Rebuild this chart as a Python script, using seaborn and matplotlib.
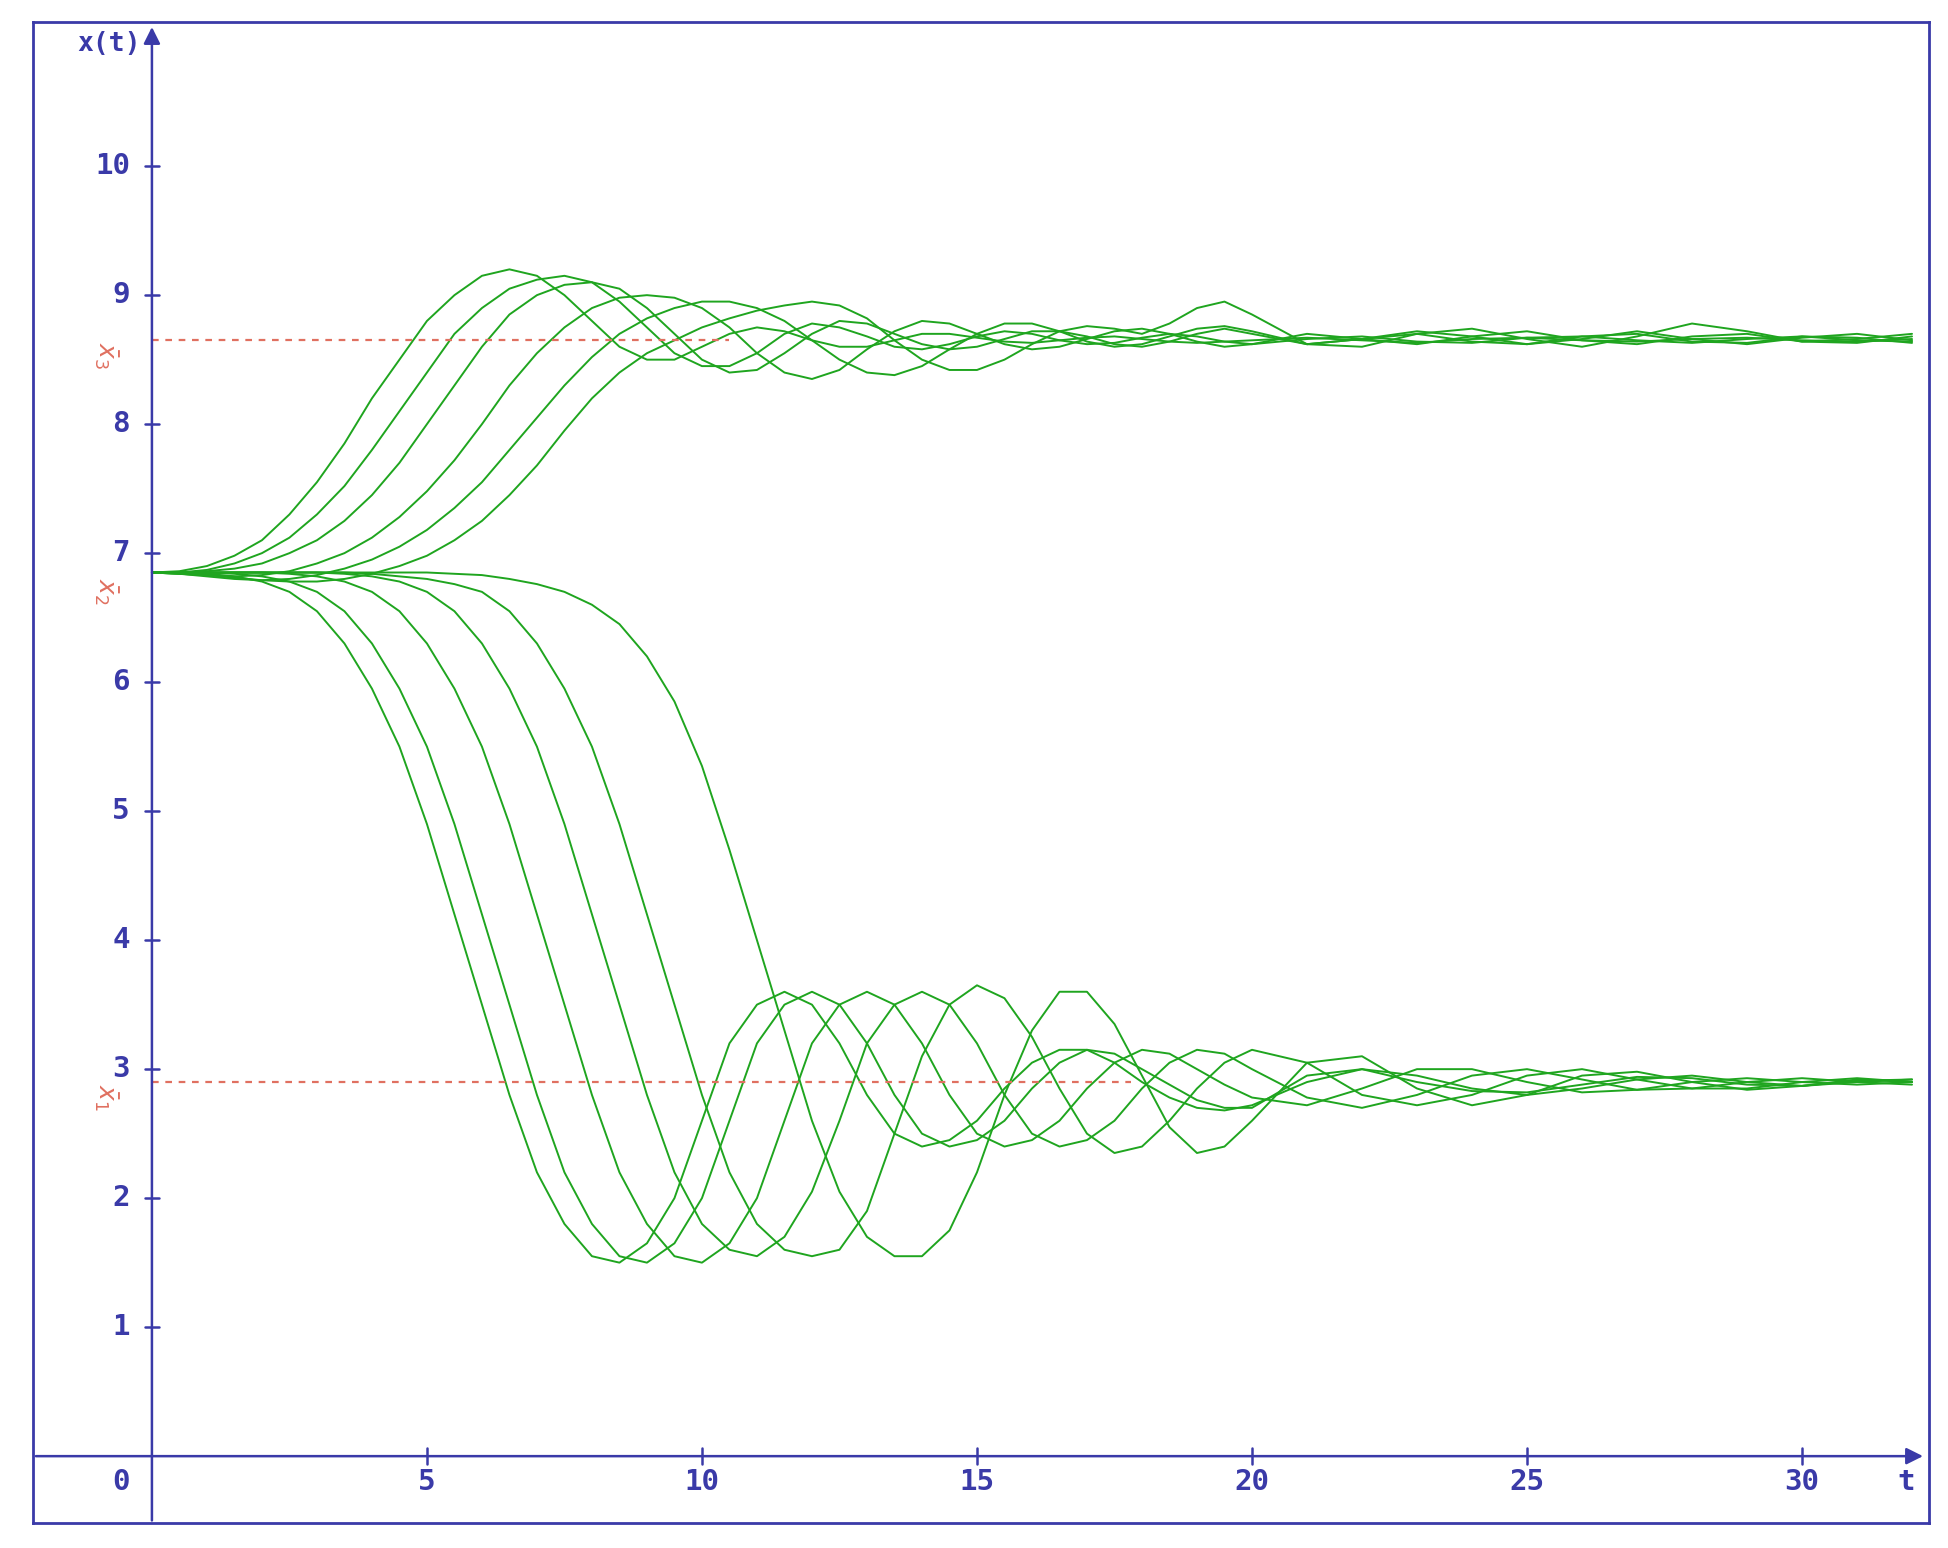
import numpy as np
import matplotlib
matplotlib.use("Agg")
import matplotlib.pyplot as plt
import seaborn as sns

# time grid: 0..20 step 0.5, then 21..32 step 1
t_fine = [i * 0.5 for i in range(41)]
t_coarse = list(range(21, 33))
t_vals = t_fine + t_coarse

# equilibria
x1_bar = 2.9
x2_bar = 6.82
x3_bar = 8.65

upper = {
    "u1": [6.85,6.86,6.9,6.98,7.1,7.3,7.55,7.85,8.2,8.5,8.8,9.0,9.15,9.2,9.15,9.0,8.8,8.6,8.5,8.5,8.6,8.7,8.75,8.72,8.65,8.6,8.6,8.65,8.7,8.7,8.67,8.64,8.63,8.65,8.67,8.68,8.66,8.64,8.63,8.64,8.65,
           8.67,8.65,8.63,8.66,8.67,8.65,8.64,8.66,8.67,8.65,8.64,8.66],
    "u2": [6.85,6.85,6.87,6.92,7.0,7.12,7.3,7.52,7.8,8.1,8.4,8.7,8.9,9.05,9.12,9.15,9.1,8.95,8.75,8.55,8.45,8.45,8.55,8.7,8.78,8.75,8.68,8.6,8.58,8.62,8.68,8.72,8.7,8.65,8.62,8.63,8.67,8.7,8.68,8.64,8.62,
           8.66,8.68,8.64,8.63,8.67,8.68,8.65,8.63,8.66,8.68,8.65,8.64],
    "u3": [6.85,6.85,6.86,6.88,6.92,7.0,7.1,7.25,7.45,7.7,8.0,8.3,8.6,8.85,9.0,9.08,9.1,9.05,8.9,8.7,8.5,8.4,8.42,8.55,8.7,8.8,8.78,8.7,8.62,8.58,8.6,8.66,8.72,8.72,8.68,8.62,8.6,8.64,8.7,8.74,8.7,
           8.62,8.66,8.7,8.64,8.62,8.68,8.7,8.64,8.63,8.68,8.67,8.63],
    "u4": [6.85,6.84,6.83,6.82,6.83,6.86,6.92,7.0,7.12,7.28,7.48,7.72,8.0,8.3,8.55,8.75,8.9,8.98,9.0,8.98,8.9,8.75,8.55,8.4,8.35,8.42,8.58,8.72,8.8,8.78,8.7,8.62,8.58,8.6,8.66,8.72,8.74,8.7,8.64,8.6,8.62,
           8.7,8.66,8.62,8.68,8.72,8.65,8.62,8.68,8.7,8.64,8.63,8.68],
    "u5": [6.85,6.84,6.82,6.8,6.79,6.8,6.83,6.88,6.95,7.05,7.18,7.35,7.55,7.8,8.05,8.3,8.52,8.7,8.82,8.9,8.95,8.95,8.9,8.8,8.65,8.5,8.4,8.38,8.45,8.58,8.7,8.78,8.78,8.72,8.64,8.6,8.62,8.68,8.74,8.76,8.72,
           8.62,8.66,8.72,8.68,8.62,8.66,8.72,8.66,8.62,8.67,8.7,8.65],
    "u6": [6.85,6.84,6.83,6.81,6.79,6.78,6.78,6.8,6.84,6.9,6.98,7.1,7.25,7.45,7.68,7.95,8.2,8.4,8.55,8.65,8.75,8.82,8.88,8.92,8.95,8.92,8.82,8.65,8.5,8.42,8.42,8.5,8.62,8.72,8.76,8.74,8.7,8.78,8.9,8.95,8.85,
           8.62,8.6,8.7,8.74,8.66,8.6,8.68,8.78,8.72,8.64,8.66,8.7],
}

lower = {
    "l1": [6.85,6.85,6.84,6.82,6.78,6.7,6.55,6.3,5.95,5.5,4.9,4.2,3.5,2.8,2.2,1.8,1.55,1.5,1.65,2.0,2.6,3.2,3.5,3.6,3.5,3.2,2.8,2.5,2.4,2.45,2.6,2.85,3.05,3.15,3.15,3.05,2.9,2.78,2.7,2.68,2.72,
           2.9,3.0,2.95,2.85,2.8,2.85,2.92,2.95,2.9,2.87,2.9,2.92],
    "l2": [6.85,6.85,6.85,6.84,6.82,6.78,6.7,6.55,6.3,5.95,5.5,4.9,4.2,3.5,2.8,2.2,1.8,1.55,1.5,1.65,2.0,2.6,3.2,3.5,3.6,3.5,3.2,2.8,2.5,2.4,2.45,2.6,2.85,3.05,3.15,3.12,3.0,2.88,2.76,2.7,2.7,
           2.95,3.0,2.9,2.83,2.82,2.88,2.94,2.93,2.88,2.87,2.91,2.92],
    "l3": [6.85,6.85,6.85,6.85,6.85,6.84,6.82,6.78,6.7,6.55,6.3,5.95,5.5,4.9,4.2,3.5,2.8,2.2,1.8,1.55,1.5,1.65,2.0,2.6,3.2,3.5,3.6,3.5,3.2,2.8,2.5,2.4,2.45,2.6,2.85,3.05,3.15,3.12,3.0,2.88,2.78,
           2.72,2.85,3.0,3.0,2.9,2.82,2.84,2.9,2.93,2.9,2.88,2.9],
    "l4": [6.85,6.85,6.85,6.85,6.85,6.85,6.85,6.84,6.82,6.78,6.7,6.55,6.3,5.95,5.5,4.9,4.2,3.5,2.8,2.2,1.8,1.6,1.55,1.7,2.05,2.6,3.2,3.5,3.6,3.5,3.2,2.8,2.5,2.4,2.45,2.6,2.85,3.05,3.15,3.12,3.0,
           2.78,2.7,2.8,2.95,3.0,2.92,2.84,2.85,2.9,2.93,2.9,2.88],
    "l5": [6.85,6.85,6.85,6.85,6.85,6.85,6.85,6.85,6.84,6.82,6.8,6.76,6.7,6.55,6.3,5.95,5.5,4.9,4.2,3.5,2.8,2.2,1.8,1.6,1.55,1.6,1.9,2.5,3.1,3.5,3.65,3.55,3.25,2.85,2.5,2.35,2.4,2.6,2.85,3.05,3.15,
           3.05,2.8,2.72,2.8,2.95,3.0,2.92,2.85,2.85,2.9,2.93,2.9],
    "l6": [6.85,6.85,6.85,6.85,6.85,6.85,6.85,6.85,6.85,6.85,6.85,6.84,6.83,6.8,6.76,6.7,6.6,6.45,6.2,5.85,5.35,4.7,4.0,3.3,2.6,2.05,1.7,1.55,1.55,1.75,2.2,2.8,3.3,3.6,3.6,3.35,2.95,2.55,2.35,2.4,2.6,
           3.05,3.1,2.85,2.72,2.8,2.95,2.98,2.9,2.84,2.87,2.92,2.9],
}

sns.set_style("white")
plt.rcParams['font.family'] = ['DejaVu Sans Mono', 'DejaVu Sans']

blue = "#3a3aa8"
green = "#1fa51f"
red = "#e07060"

fig = plt.figure(figsize=(19.48, 15.48), dpi=100)
ax = fig.add_axes([0.017, 0.016, 0.973, 0.97])

for name, vals in {**upper, **lower}.items():
    sns.lineplot(x=t_vals, y=vals, ax=ax, color=green, linewidth=1.4)

# equilibrium lines
ax.plot([0, 10.5], [x3_bar, x3_bar], color=red, linestyle=(0, (3, 3)), linewidth=1.6)
ax.plot([0, 17.8], [x1_bar, x1_bar], color=red, linestyle=(0, (3, 3)), linewidth=1.6)
for lab, yv in [(r"$\bar{x}_3$", x3_bar), (r"$\bar{x}_2$", x2_bar), (r"$\bar{x}_1$", x1_bar)]:
    ax.text(-0.85, yv - 0.12, lab, color=red, fontsize=18, rotation=-90, ha="center", va="center")

ax.set_xlim(-2.16, 32.3)
ax.set_ylim(-0.52, 11.12)
for s in ax.spines.values():
    s.set_color(blue)
    s.set_linewidth(2)
ax.set_xticks([])
ax.set_yticks([])

# coordinate axes with arrows
ax.annotate("", xy=(32.25, 0), xytext=(-2.16, 0),
            arrowprops=dict(arrowstyle="-|>", color=blue, lw=1.8, mutation_scale=25))
ax.annotate("", xy=(0, 11.1), xytext=(0, -0.52),
            arrowprops=dict(arrowstyle="-|>", color=blue, lw=1.8, mutation_scale=25))

for yv in range(1, 11):
    ax.plot([-0.12, 0.12], [yv, yv], color=blue, lw=1.8)
    ax.text(-0.4, yv, str(yv), color=blue, fontsize=21, fontweight="bold", ha="right", va="center")
for xv in range(5, 35, 5):
    if xv > 32:
        continue
    ax.plot([xv, xv], [-0.06, 0.06], color=blue, lw=1.8)
    ax.text(xv, -0.2, str(xv), color=blue, fontsize=21, fontweight="bold", ha="center", va="center")
ax.text(-0.4, -0.2, "0", color=blue, fontsize=21, fontweight="bold", ha="right", va="center")
ax.text(31.9, -0.2, "t", color=blue, fontsize=21, fontweight="bold", ha="center", va="center")
ax.text(-0.2, 10.95, "x(t)", color=blue, fontsize=19, fontweight="bold", ha="right", va="center")

fig.savefig("out.png", dpi=100)
